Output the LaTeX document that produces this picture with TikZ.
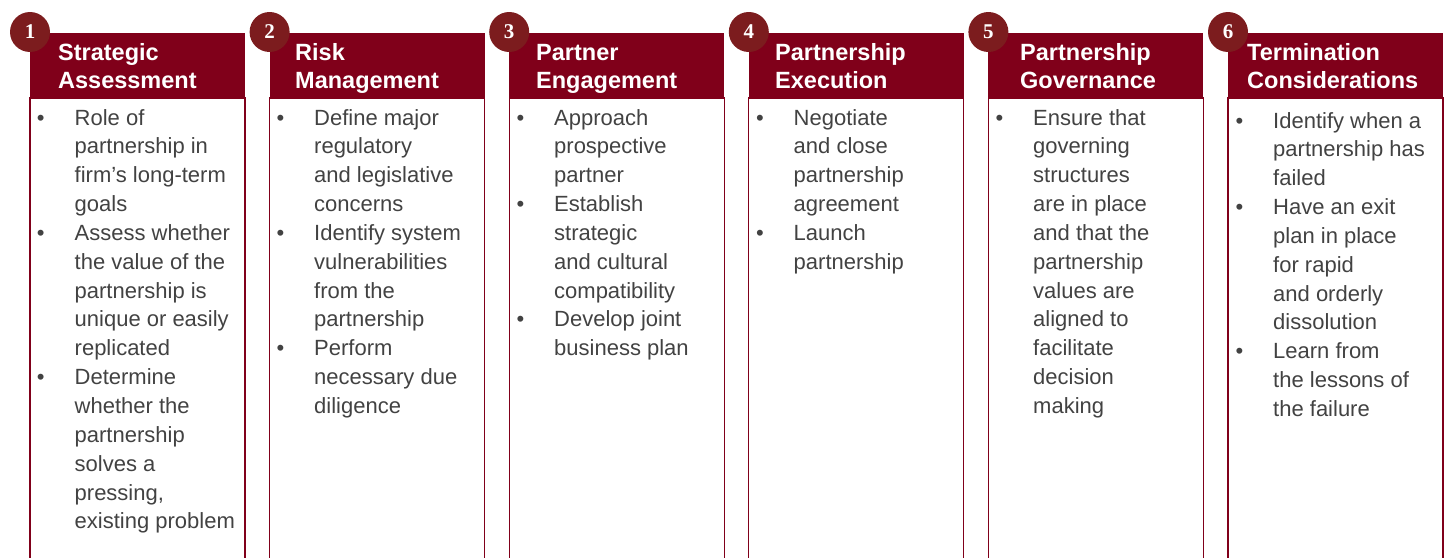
\documentclass[tikz,border=0pt]{standalone}
\usepackage{fontspec}
\setmainfont{Liberation Sans}
\newfontfamily\numfont{Liberation Serif}
\usetikzlibrary{positioning}
\definecolor{HeadRed}{RGB}{128,0,26}
\definecolor{BallRed}{RGB}{124,28,30}
\definecolor{TextGray}{RGB}{66,66,66}
\newcommand{\bul}{\llap{\textbullet\hspace{30pt}}}
\newcommand{\toplines}[1]{\begin{tabular}[t]{@{}l@{}}#1\end{tabular}}

\begin{document}
\begin{tikzpicture}[x=1pt,y=-1pt,
  panel/.style={draw=HeadRed,line width=1.2pt},
  numball/.style={circle,fill=BallRed,minimum size=40pt,inner sep=0pt,text=white,
    font=\numfont\bfseries\fontsize{21}{21}\selectfont},
  headtext/.style={anchor=base west,inner sep=0pt,text=white,
    font=\bfseries\fontsize{23.5}{28}\selectfont},
  listtext/.style={anchor=base west,inner sep=0pt,text=TextGray,
    font=\fontsize{22}{28.85}\selectfont}]
  \useasboundingbox (0,0) rectangle (1447,557);
  % six panels with their numbers
  \foreach \i in {1,...,6}{
    \pgfmathsetmacro{\xl}{30+239.6*(\i-1)}
    \draw[panel] (\xl,98) rectangle (\xl+215,600);
    \fill[HeadRed] (\xl,33) rectangle (\xl+215,98);
    \node[numball] (num\i) at (\xl,32) {\i};
  }
  % titles
  \node[headtext] (head1) at (58,60) {\toplines{Strategic\\Assessment}};
  \node[headtext] (head2) at (295,60) {\toplines{Risk\\Management}};
  \node[headtext] (head3) at (536,60) {\toplines{Partner\\Engagement}};
  \node[headtext] (head4) at (775,60) {\toplines{Partnership\\Execution}};
  \node[headtext] (head5) at (1020,60) {\toplines{Partnership\\Governance}};
  \node[headtext] (head6) at (1247,60) {\toplines{Termination\\Considerations}};
  % bullet lists
  \node[listtext] (list1) at (74.5,125) {\toplines{\bul Role of\\partnership in\\firm’s long-term\\goals\\
    \bul Assess whether\\the value of the\\partnership is\\unique or easily\\replicated\\
    \bul Determine\\whether the\\partnership\\solves a\\pressing,\\existing problem}};
  \node[listtext] (list2) at (314,125) {\toplines{\bul Define major\\regulatory\\and legislative\\concerns\\
    \bul Identify system\\vulnerabilities\\from the\\partnership\\
    \bul Perform\\necessary due\\diligence}};
  \node[listtext] (list3) at (554,125) {\toplines{\bul Approach\\prospective\\partner\\
    \bul Establish\\strategic\\and cultural\\compatibility\\
    \bul Develop joint\\business plan}};
  \node[listtext] (list4) at (793.5,125) {\toplines{\bul Negotiate\\and close\\partnership\\agreement\\
    \bul Launch\\partnership}};
  \node[listtext] (list5) at (1033,125) {\toplines{\bul Ensure that\\governing\\structures\\are in place\\
    and that the\\partnership\\values are\\aligned to\\facilitate\\decision\\making}};
  \node[listtext] (list6) at (1273,128) {\toplines{\bul Identify when a\\partnership has\\failed\\
    \bul Have an exit\\plan in place\\for rapid\\and orderly\\dissolution\\
    \bul Learn from\\the lessons of\\the failure}};
\end{tikzpicture}
\end{document}
